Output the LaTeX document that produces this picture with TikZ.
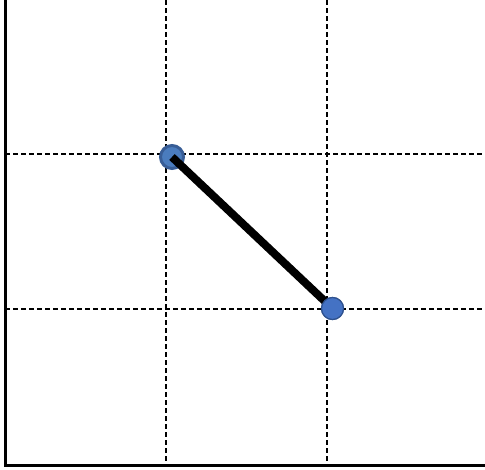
\documentclass[tikz,border=0pt]{standalone}
\begin{document}
\begin{tikzpicture}[x=1pt,y=-1pt,
  grid/.style={black,line width=1.4pt,dash pattern=on 5pt off 3pt},
  frame/.style={black,line width=3.2pt},
  seg/.style={black,line width=8pt},
  ptA/.style={circle,fill={rgb,255:red,74;green,124;blue,190},draw={rgb,255:red,56;green,93;blue,150},line width=3pt,minimum size=23pt,inner sep=0pt},
  ptB/.style={circle,fill={rgb,255:red,68;green,114;blue,196},draw={rgb,255:red,47;green,82;blue,143},line width=1.2pt,minimum size=22pt,inner sep=0pt}]
\useasboundingbox (0,0) rectangle (485,469);
\fill[white] (0,0) rectangle (485,469);
\coordinate (v1t) at (166,0); \coordinate (v1b) at (166,465);
\coordinate (v2t) at (327,0); \coordinate (v2b) at (327,465);
\coordinate (h1l) at (5,154); \coordinate (h1r) at (485,154);
\coordinate (h2l) at (5,309); \coordinate (h2r) at (485,309);
\draw[grid] (v1t) -- (v1b);
\draw[grid] (v2t) -- (v2b);
\draw[grid] (h1l) -- (h1r);
\draw[grid] (h2l) -- (h2r);
\coordinate (tl) at (5.2,0); \coordinate (bl) at (5.2,465.8); \coordinate (br) at (485,465.8);
\draw[frame] (tl) -- (bl) -- (br);
\node[ptA] (a) at (172,157) {};
\node[ptB] (b) at (332.5,308.5) {};
\draw[seg] (a.center) -- (b.center);
\node[ptB] at (b) {};
\end{tikzpicture}
\end{document}
